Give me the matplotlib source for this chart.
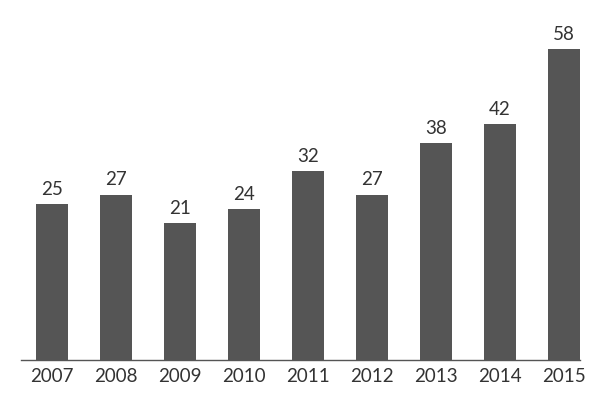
import numpy as np
import matplotlib.pyplot as plt

years = ['2007', '2008', '2009', '2010', '2011', '2012', '2013', '2014', '2015']
values = [25, 27, 21, 24, 32, 27, 38, 42, 58]

plt.rcParams['font.family'] = ['Lato', 'DejaVu Sans']

fig = plt.figure(figsize=(6, 3.93), dpi=100)
ax = fig.add_axes([0.035, 0.084, 0.932, 0.84])

ymin = -8.15
x = np.arange(len(years))
heights = [v - ymin for v in values]
ax.bar(x, heights, bottom=ymin, width=0.5, color='#555555')

for xi, v in zip(x, values):
    ax.text(xi, v + 1.3, str(v), ha='center', va='bottom',
            fontsize=13.5, color='#333333')

ax.set_xlim(-0.485, 8.26)
ax.set_ylim(ymin, 62)
ax.set_xticks(x)
ax.set_xticklabels(years, fontsize=13.5, color='#333333')
ax.tick_params(axis='x', length=0, pad=6)
ax.set_yticks([])
for side in ['top', 'right', 'left']:
    ax.spines[side].set_visible(False)
ax.spines['bottom'].set_color('#555555')
ax.spines['bottom'].set_linewidth(1.0)

plt.savefig('out.png', dpi=100)
